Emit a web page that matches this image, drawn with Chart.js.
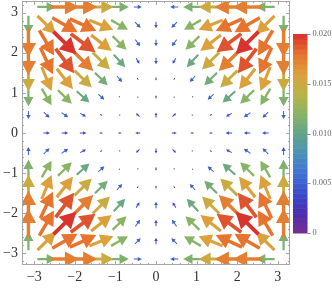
<!DOCTYPE html>
<html>
<head>
<meta charset="utf-8">
<script src="https://cdn.jsdelivr.net/npm/chart.js@4.4.1/dist/chart.umd.min.js"></script>
<style>
  html, body { margin: 0; padding: 0; background: #fff; }
</style>
</head>
<body>
<canvas id="chart" width="332" height="288"></canvas>
<script>
// grid of sample points (x left to right, y top to bottom)
const gridX = [-3.142, -2.693, -2.244, -1.795, -1.346, -0.898, -0.449, 0, 0.449, 0.898, 1.346, 1.795, 2.244, 2.693, 3.142];
const gridY = [3.142, 2.693, 2.244, 1.795, 1.346, 0.898, 0.449, 0, -0.449, -0.898, -1.346, -1.795, -2.244, -2.693, -3.142];

// vector components, in thousandths, one row per gridY value
const uRows = [
  [0, 11.5, 17.5, 17.5, 15, 11.5, 5, 0, -5, -11.5, -15, -17.5, -17.5, -11.5, 0],
  [0, 11.3, 15.6, 16.3, 14.8, 10.4, 3.5, 0, -3.5, -10.4, -14.8, -16.3, -15.6, -11.3, 0],
  [0, 9.0, 14.1, 15.2, 12.6, 8.5, 2.9, 0, -2.9, -8.5, -12.6, -15.2, -14.1, -9.0, 0],
  [0, 7.6, 11.4, 12.4, 10.6, 7.0, 2.0, 0, -2.0, -7.0, -10.6, -12.4, -11.4, -7.6, 0],
  [0, 6.0, 9.9, 10.6, 7.8, 3.3, 0.8, 0, -0.8, -3.3, -7.8, -10.6, -9.9, -6.0, 0],
  [0, 6.0, 8.5, 7.8, 3.7, 0.7, -0.6, 0, 0.6, -0.7, -3.7, -7.8, -8.5, -6.0, 0],
  [0, 3.5, 4.1, 3.5, 1.3, -0.8, -2.1, 0, 2.1, 0.8, -1.3, -3.5, -4.1, -3.5, 0],
  [0, 4, 4, 4, 2, -2, -3, 0, 3, 2, -2, -4, -4, -4, 0],
  [0, 3.5, 4.1, 3.5, 1.3, -0.8, -2.1, 0, 2.1, 0.8, -1.3, -3.5, -4.1, -3.5, 0],
  [0, 6.0, 8.5, 7.8, 3.7, 0.7, -0.6, 0, 0.6, -0.7, -3.7, -7.8, -8.5, -6.0, 0],
  [0, 6.0, 9.9, 10.6, 7.8, 3.3, 0.8, 0, -0.8, -3.3, -7.8, -10.6, -9.9, -6.0, 0],
  [0, 7.6, 11.4, 12.4, 10.6, 7.0, 2.0, 0, -2.0, -7.0, -10.6, -12.4, -11.4, -7.6, 0],
  [0, 9.0, 14.1, 15.2, 12.6, 8.5, 2.9, 0, -2.9, -8.5, -12.6, -15.2, -14.1, -9.0, 0],
  [0, 11.3, 15.6, 16.3, 14.8, 10.4, 3.5, 0, -3.5, -10.4, -14.8, -16.3, -15.6, -11.3, 0],
  [0, 11.5, 17.5, 17.5, 15, 11.5, 5, 0, -5, -11.5, -15, -17.5, -17.5, -11.5, 0],
];
const vRows = [
  [0, 0, 0, 0, 0, 0, 0, 0, 0, 0, 0, 0, 0, 0, 0],
  [-11.5, -11.3, -9.0, -7.6, -6.0, -6.0, -3.5, -4, -3.5, -6.0, -6.0, -7.6, -9.0, -11.3, -11.5],
  [-17.5, -15.6, -14.1, -11.4, -9.9, -8.5, -4.1, -4, -4.1, -8.5, -9.9, -11.4, -14.1, -15.6, -17.5],
  [-17.5, -16.3, -15.2, -12.4, -10.6, -7.8, -3.5, -4, -3.5, -7.8, -10.6, -12.4, -15.2, -16.3, -17.5],
  [-15, -14.8, -12.6, -10.6, -7.8, -3.7, -1.3, -2, -1.3, -3.7, -7.8, -10.6, -12.6, -14.8, -15],
  [-11.5, -10.4, -8.5, -7.0, -3.3, -0.7, 0.8, 2, 0.8, -0.7, -3.3, -7.0, -8.5, -10.4, -11.5],
  [-5, -3.5, -2.9, -2, -0.8, 0.6, 2.1, 3, 2.1, 0.6, -0.8, -2, -2.9, -3.5, -5],
  [0, 0, 0, 0, 0, 0, 0, 0, 0, 0, 0, 0, 0, 0, 0],
  [5, 3.5, 2.9, 2, 0.8, -0.6, -2.1, -3, -2.1, -0.6, 0.8, 2, 2.9, 3.5, 5],
  [11.5, 10.4, 8.5, 7.0, 3.3, 0.7, -0.8, -2, -0.8, 0.7, 3.3, 7.0, 8.5, 10.4, 11.5],
  [15, 14.8, 12.6, 10.6, 7.8, 3.7, 1.3, 2, 1.3, 3.7, 7.8, 10.6, 12.6, 14.8, 15],
  [17.5, 16.3, 15.2, 12.4, 10.6, 7.8, 3.5, 4, 3.5, 7.8, 10.6, 12.4, 15.2, 16.3, 17.5],
  [17.5, 15.6, 14.1, 11.4, 9.9, 8.5, 4.1, 4, 4.1, 8.5, 9.9, 11.4, 14.1, 15.6, 17.5],
  [11.5, 11.3, 9.0, 7.6, 6.0, 6.0, 3.5, 4, 3.5, 6.0, 6.0, 7.6, 9.0, 11.3, 11.5],
  [0, 0, 0, 0, 0, 0, 0, 0, 0, 0, 0, 0, 0, 0, 0],
];

const axisTicks = [-3, -2, -1, 0, 1, 2, 3];
const barTicks = [0, 0.005, 0.01, 0.015, 0.02];
const barLabels = ["0", "0.005", "0.010", "0.015", "0.020"];
const maxMag = 0.02;

const rainbowStops = [0, 0.1, 0.2, 0.3, 0.4, 0.5, 0.6, 0.7, 0.8, 0.9, 1];
const rainbowColors = ["#7a2e8f", "#4b2db0", "#3a4ccb", "#3f73d2", "#4b92b7", "#62a48a",
  "#88b465", "#b9b447", "#dca13a", "#e6742f", "#d8312c"];

const serif = "'Liberation Serif', 'Times New Roman', serif";

const points = [];
gridY.forEach((y, r) => {
  gridX.forEach((x, c) => {
    points.push({ x: x, y: y, u: uRows[r][c] / 1000, v: vRows[r][c] / 1000 });
  });
});

function hexToRgb(h) {
  return [parseInt(h.slice(1, 3), 16), parseInt(h.slice(3, 5), 16), parseInt(h.slice(5, 7), 16)];
}

function rainbow(t) {
  t = Math.max(0, Math.min(1, t));
  let k = 0;
  while (k < rainbowStops.length - 2 && t > rainbowStops[k + 1]) k++;
  const f = (t - rainbowStops[k]) / (rainbowStops[k + 1] - rainbowStops[k]);
  const a = hexToRgb(rainbowColors[k]);
  const b = hexToRgb(rainbowColors[k + 1]);
  const c = a.map((va, i) => Math.round(va + (b[i] - va) * f));
  return "rgb(" + c.join(",") + ")";
}

function fmt(v) {
  return v < 0 ? "\u2212" + Math.abs(v) : String(v);
}

// chart.js adds tick padding to the axis margins, drop it so the frame fills the canvas
function noPad(s) {
  s.paddingTop = 0;
  s.paddingBottom = 0;
  s.paddingLeft = 0;
  s.paddingRight = 0;
}

const arrowPlugin = {
  id: "arrows",
  afterDatasetsDraw(chart) {
    const ctx = chart.ctx;
    const area = chart.chartArea;
    const sx = chart.scales.x;
    const sy = chart.scales.y;
    const kx = Math.abs(sx.getPixelForValue(1) - sx.getPixelForValue(0));
    const ky = Math.abs(sy.getPixelForValue(1) - sy.getPixelForValue(0));
    const pxPerUnit = 1620;
    const meta = chart.getDatasetMeta(0);
    const items = meta.data.map((el, i) => ({ el: el, p: points[i], m: Math.hypot(points[i].u, points[i].v) }));
    items.sort((a, b) => a.m - b.m);

    ctx.save();
    ctx.beginPath();
    ctx.rect(area.left, area.top, area.right - area.left, area.bottom - area.top);
    ctx.clip();
    items.forEach(({ el, p, m }) => {
      if (m < 1e-7) return;
      const len = Math.max(1.5, m * pxPerUnit);
      const ang = Math.atan2(-p.v * ky, p.u * kx);
      const h = 0.5 * len;
      const w = 0.27 * len;
      const s = Math.max(0.5, 0.06 * len);
      ctx.save();
      ctx.translate(el.x, el.y);
      ctx.rotate(ang);
      ctx.fillStyle = rainbow(m / maxMag);
      ctx.beginPath();
      ctx.moveTo(-len / 2, -s);
      ctx.lineTo(len / 2 - h, -s);
      ctx.lineTo(len / 2 - h, -w);
      ctx.lineTo(len / 2, 0);
      ctx.lineTo(len / 2 - h, w);
      ctx.lineTo(len / 2 - h, s);
      ctx.lineTo(-len / 2, s);
      ctx.closePath();
      ctx.fill();
      ctx.restore();
    });
    ctx.restore();
  },
  afterDraw(chart) {
    const ctx = chart.ctx;
    const area = chart.chartArea;
    const sx = chart.scales.x;
    const sy = chart.scales.y;
    const sc = chart.scales.c;

    // frame with inward ticks
    ctx.save();
    ctx.strokeStyle = "#a6a6a6";
    ctx.lineWidth = 1;
    ctx.strokeRect(area.left + 0.5, area.top + 0.5, area.right - area.left - 1, area.bottom - area.top - 1);
    ctx.beginPath();
    for (let t = -32; t <= 32; t += 2) {
      const v = t / 10;
      const major = t % 10 === 0;
      const len = major ? 4 : 2;
      const px = Math.round(sx.getPixelForValue(v)) + 0.5;
      ctx.moveTo(px, area.bottom);
      ctx.lineTo(px, area.bottom - len);
      ctx.moveTo(px, area.top);
      ctx.lineTo(px, area.top + len);
      const py = Math.round(sy.getPixelForValue(v)) + 0.5;
      ctx.moveTo(area.left, py);
      ctx.lineTo(area.left + len, py);
      ctx.moveTo(area.right, py);
      ctx.lineTo(area.right - len, py);
    }
    ctx.stroke();

    // colour bar
    const bx = sc.left + 3;
    const bw = 14.5;
    const y0 = sc.getPixelForValue(0);
    const y1 = sc.getPixelForValue(maxMag);
    const bands = 40;
    for (let k = 0; k < bands; k++) {
      const ya = y0 + (y1 - y0) * k / bands;
      const yb = y0 + (y1 - y0) * (k + 1) / bands;
      ctx.fillStyle = rainbow((k + 0.5) / bands);
      ctx.fillRect(bx, yb, bw, ya - yb + 0.5);
    }
    ctx.strokeStyle = "#8c8c8c";
    ctx.beginPath();
    barTicks.forEach(v => {
      const py = Math.round(sc.getPixelForValue(v)) + 0.5;
      ctx.moveTo(bx + bw, py);
      ctx.lineTo(bx + bw + 3, py);
    });
    ctx.stroke();
    ctx.restore();
  }
};

const chart = new Chart(document.getElementById("chart"), {
  type: "scatter",
  data: {
    datasets: [{
      data: points.map(p => ({ x: p.x, y: p.y })),
      pointRadius: 0,
      pointHoverRadius: 0,
    }],
  },
  options: {
    responsive: false,
    animation: false,
    events: [],
    layout: { padding: { top: 1, left: 0, right: 0, bottom: 0 } },
    plugins: { legend: { display: false }, tooltip: { enabled: false } },
    scales: {
      x: {
        type: "linear",
        min: -3.3,
        max: 3.3,
        afterBuildTicks: s => { s.ticks = axisTicks.map(v => ({ value: v })); },
        afterFit: s => { s.height = 23; noPad(s); },
        grid: { display: false, drawTicks: false },
        border: { display: false },
        ticks: { padding: 4, maxRotation: 0, autoSkip: false, color: "#333", font: { family: serif, size: 14 }, callback: fmt },
      },
      y: {
        type: "linear",
        min: -3.29,
        max: 3.29,
        afterBuildTicks: s => { s.ticks = axisTicks.map(v => ({ value: v })); },
        afterFit: s => { s.width = 22; noPad(s); },
        grid: { display: false, drawTicks: false },
        border: { display: false },
        ticks: { padding: 4, autoSkip: false, color: "#333", font: { family: serif, size: 14 }, callback: fmt },
      },
      c: {
        type: "linear",
        axis: "y",
        position: "right",
        min: -0.003216,
        max: 0.023317,
        afterBuildTicks: s => { s.ticks = barTicks.map(v => ({ value: v })); },
        afterFit: s => { s.width = 42; noPad(s); },
        grid: { display: false, drawTicks: false },
        border: { display: false },
        ticks: { padding: 22.5, autoSkip: false, color: "#666", font: { family: serif, size: 8.4 }, callback: (v, i) => barLabels[i] },
      },
    },
  },
  plugins: [arrowPlugin],
});
</script>
</body>
</html>
